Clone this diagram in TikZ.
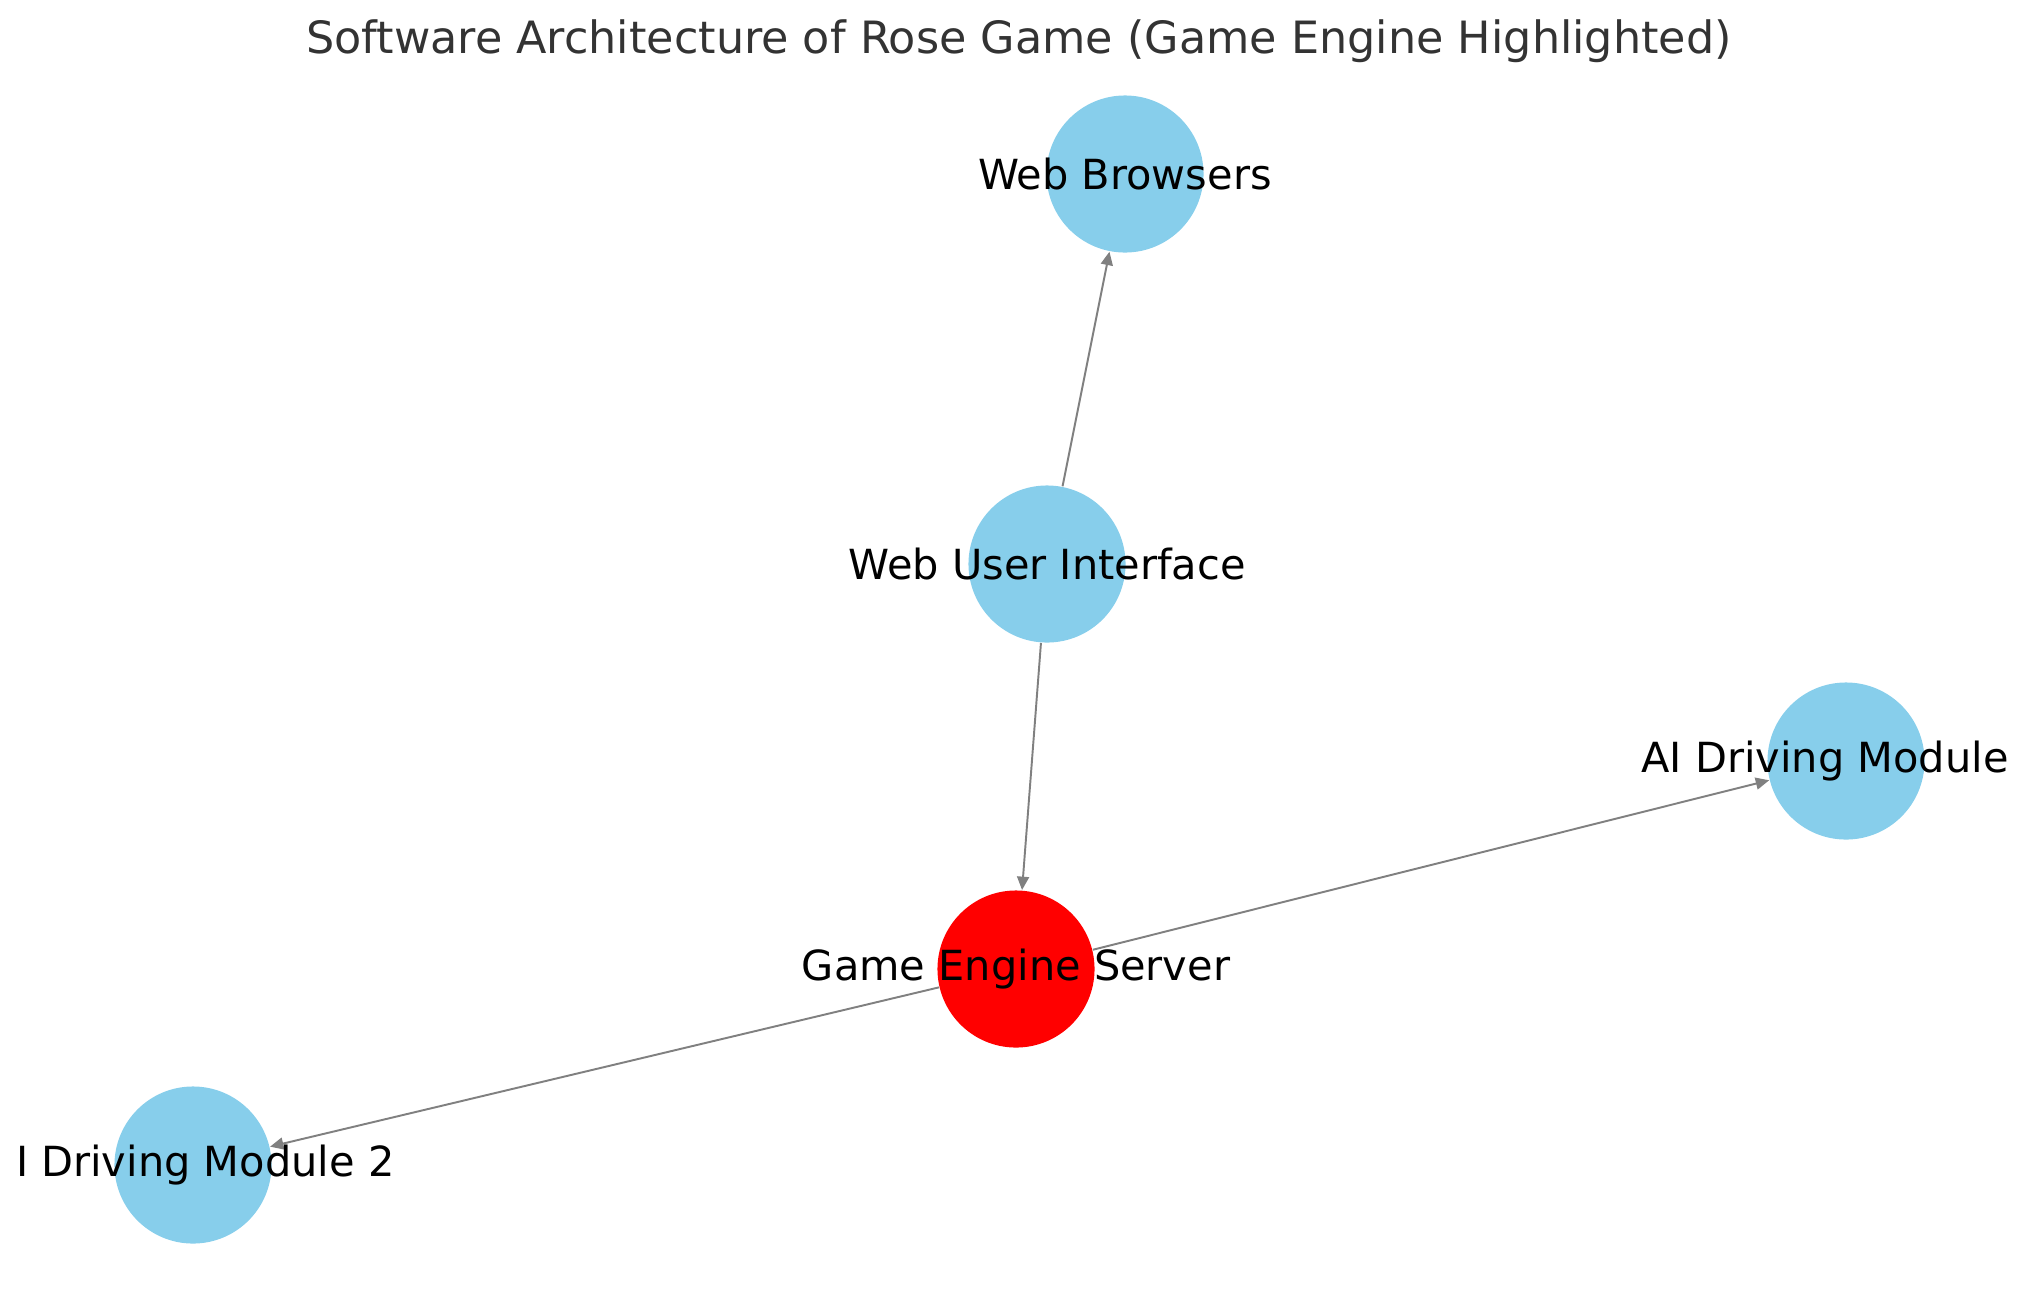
\documentclass[tikz,border=0pt]{standalone}
\usepackage{fontspec}
\setmainfont{DejaVu Sans}
\usetikzlibrary{arrows.meta}
\definecolor{skyblue}{HTML}{87CEEB}
\definecolor{titlegray}{HTML}{333333}
\tikzstyle{module} = [circle, fill=skyblue, minimum size=1.57cm, inner sep=0pt]
\tikzstyle{engine} = [module, fill=red]
\tikzstyle{link} = [draw=gray, line width=0.55pt, -{Triangle[length=3.8pt, width=3.4pt]}]
\tikzstyle{tag} = [font=\fontsize{11.8}{14}\selectfont, text=black, inner sep=0pt]

\begin{document}
\begin{tikzpicture}[x=0.01cm, y=-0.01cm]
    \clip (0,0) rectangle (2039,1290);
    \node[font=\fontsize{12.65}{15}\selectfont, text=titlegray] (title) at (1019,41)
      {Software Architecture of Rose Game (Game Engine Highlighted)};
    \node[module] (wb) at (1125,174) {};
    \node[module] (wui) at (1047,564) {};
    \node[module] (aim) at (1846,761) {};
    \node[engine] (ges) at (1016,969) {};
    \node[module] (aim2) at (193,1165) {};
    \foreach \a/\b in {wui/wb, wui/ges, ges/aim, ges/aim2}
      \draw[link] (\a) -- (\b);
    \foreach \n/\t/\dx in {wb/Web Browsers/0, wui/Web User Interface/0,
                           aim/AI Driving Module/-21, ges/Game Engine Server/0}
      \node[tag] (\n-lbl) at ([xshift=\dx*0.01cm]\n) {\t};
    \node[tag, anchor=east] (aim2-lbl) at ([xshift=2.02cm]aim2) {I Driving Module 2};
\end{tikzpicture}
\end{document}
